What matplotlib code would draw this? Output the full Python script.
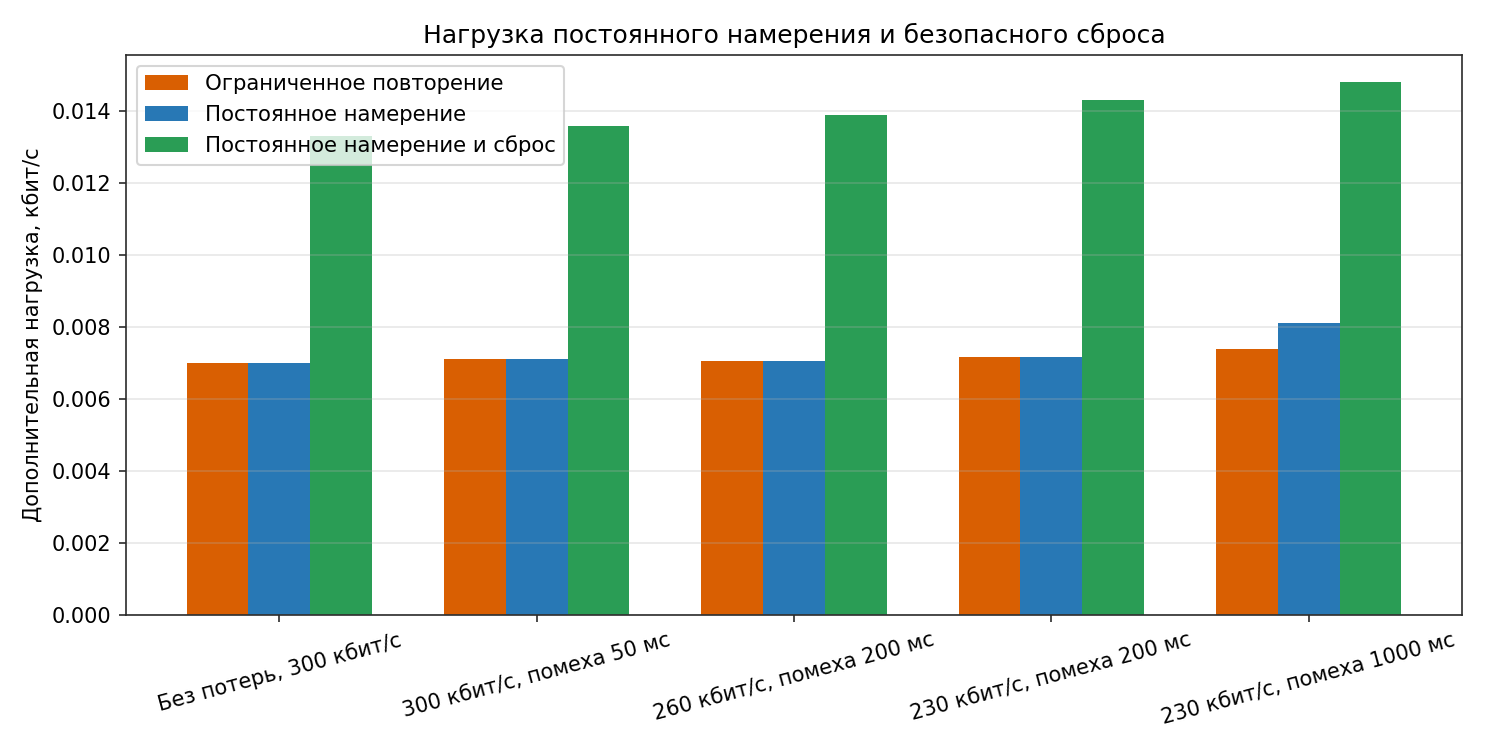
import numpy as np
import matplotlib
matplotlib.use("Agg")
import matplotlib.pyplot as plt

categories = ["Без потерь, 300 кбит/с", "300 кбит/с, помеха 50 мс",
              "260 кбит/с, помеха 200 мс", "230 кбит/с, помеха 200 мс",
              "230 кбит/с, помеха 1000 мс"]
series_names = ["Ограниченное повторение", "Постоянное намерение",
                "Постоянное намерение и сброс"]
bounded_retry = [0.00700, 0.00710, 0.00707, 0.00716, 0.00738]
persistent_intent = [0.00700, 0.00710, 0.00707, 0.00716, 0.00810]
intent_reset = [0.01331, 0.01359, 0.01390, 0.01431, 0.01481]
colors = ["#d95f02", "#2878b5", "#2a9d55"]

fig, ax = plt.subplots(figsize=(10, 5), dpi=150)
x = np.arange(len(categories))
w = 0.24
for i, (vals, name, c) in enumerate(zip([bounded_retry, persistent_intent, intent_reset],
                                        series_names, colors)):
    ax.bar(x + (i - 1) * w, vals, w, label=name, color=c)

ax.set_xticks(x)
ax.set_xticklabels(categories, rotation=15, ha="center")
ax.set_ylabel("Дополнительная нагрузка, кбит/с")
ax.set_title("Нагрузка постоянного намерения и безопасного сброса")
ax.yaxis.grid(True, alpha=0.3)
for s in ax.spines.values():
    s.set_color("#2b2b2b")
ax.tick_params(color="#2b2b2b")
ax.legend(loc="upper left", prop={"size": 10.2})
fig.tight_layout()
fig.savefig("out.png", dpi=150)
